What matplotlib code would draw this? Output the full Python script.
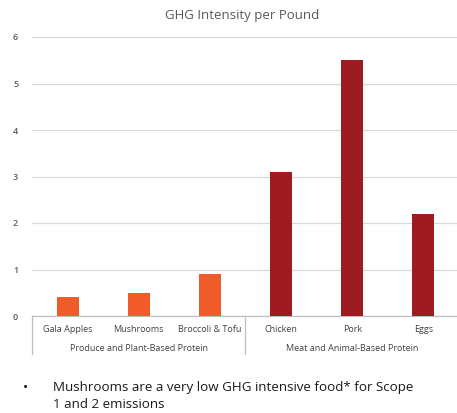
import matplotlib
matplotlib.use("Agg")
import matplotlib.pyplot as plt
from matplotlib.lines import Line2D

categories = ["Gala Apples", "Mushrooms", "Broccoli & Tofu", "Chicken", "Pork", "Eggs"]
values = [0.4, 0.5, 0.9, 3.1, 5.5, 2.2]
groups = ["Produce and Plant-Based Protein", "Meat and Animal-Based Protein"]
group_sizes = [3, 3]
yticks = [0, 1, 2, 3, 4, 5, 6]
title = "GHG Intensity per Pound"
note_lines = ["Mushrooms are a very low GHG intensive food* for Scope", "1 and 2 emissions"]

plt.rcParams['font.family'] = ['Open Sans', 'DejaVu Sans']
W, H = 457, 413
fig = plt.figure(figsize=(W/100, H/100), dpi=100)
left, right, top, bottom = 32, 459, 37, 316
ax = fig.add_axes([left/W, 1-bottom/H, (right-left)/W, (bottom-top)/H])

colors = ["#F15A2B"]*group_sizes[0] + ["#9E1B22"]*group_sizes[1]
x = list(range(len(categories)))
ax.bar(x, values, width=0.31, color=colors, zorder=3)
ax.set_xlim(-0.5, len(categories)-0.5)
ax.set_ylim(0, 6)
ax.set_yticks(yticks)
ax.set_yticklabels([str(t) for t in yticks], fontsize=6.5, color="#595959", fontweight='semibold')
ax.tick_params(axis='y', length=0, pad=10)
ax.set_xticks([])
ax.grid(axis='y', color="#D9D9D9", linewidth=0.9, zorder=0)
for s in ["top", "right", "left"]:
    ax.spines[s].set_visible(False)
ax.spines["bottom"].set_color("#BFBFBF")
ax.spines["bottom"].set_linewidth(0.9)

# category labels
trans = ax.get_xaxis_transform()
for i, c in enumerate(categories):
    ax.text(i, -0.047, c, transform=trans, ha='center', va='center', fontsize=6.5, color="#404040")
# group labels and separators
start = 0
bounds = [-0.5]
for g, n in zip(groups, group_sizes):
    center = start + (n-1)/2
    ax.text(center, -0.115, g, transform=trans, ha='center', va='center', fontsize=6.5, color="#404040")
    start += n
    bounds.append(start-0.5)
for b in bounds:
    ax.add_line(Line2D([b, b], [0, -0.135], transform=trans, color="#BFBFBF", linewidth=0.9, clip_on=False))

fig.text(242/W, 1-15/H, title, ha='center', va='center', fontsize=9.5, color="#595959")

fig.text(25/W, 1-388/H, "•", ha='center', va='center', fontsize=10, color="#000000")
fig.text(53/W, 1-388/H, note_lines[0], ha='left', va='center', fontsize=9.6, color="#1a1a1a")
fig.text(53/W, 1-405/H, note_lines[1], ha='left', va='center', fontsize=9.6, color="#1a1a1a")

fig.savefig("out.png", dpi=100)
